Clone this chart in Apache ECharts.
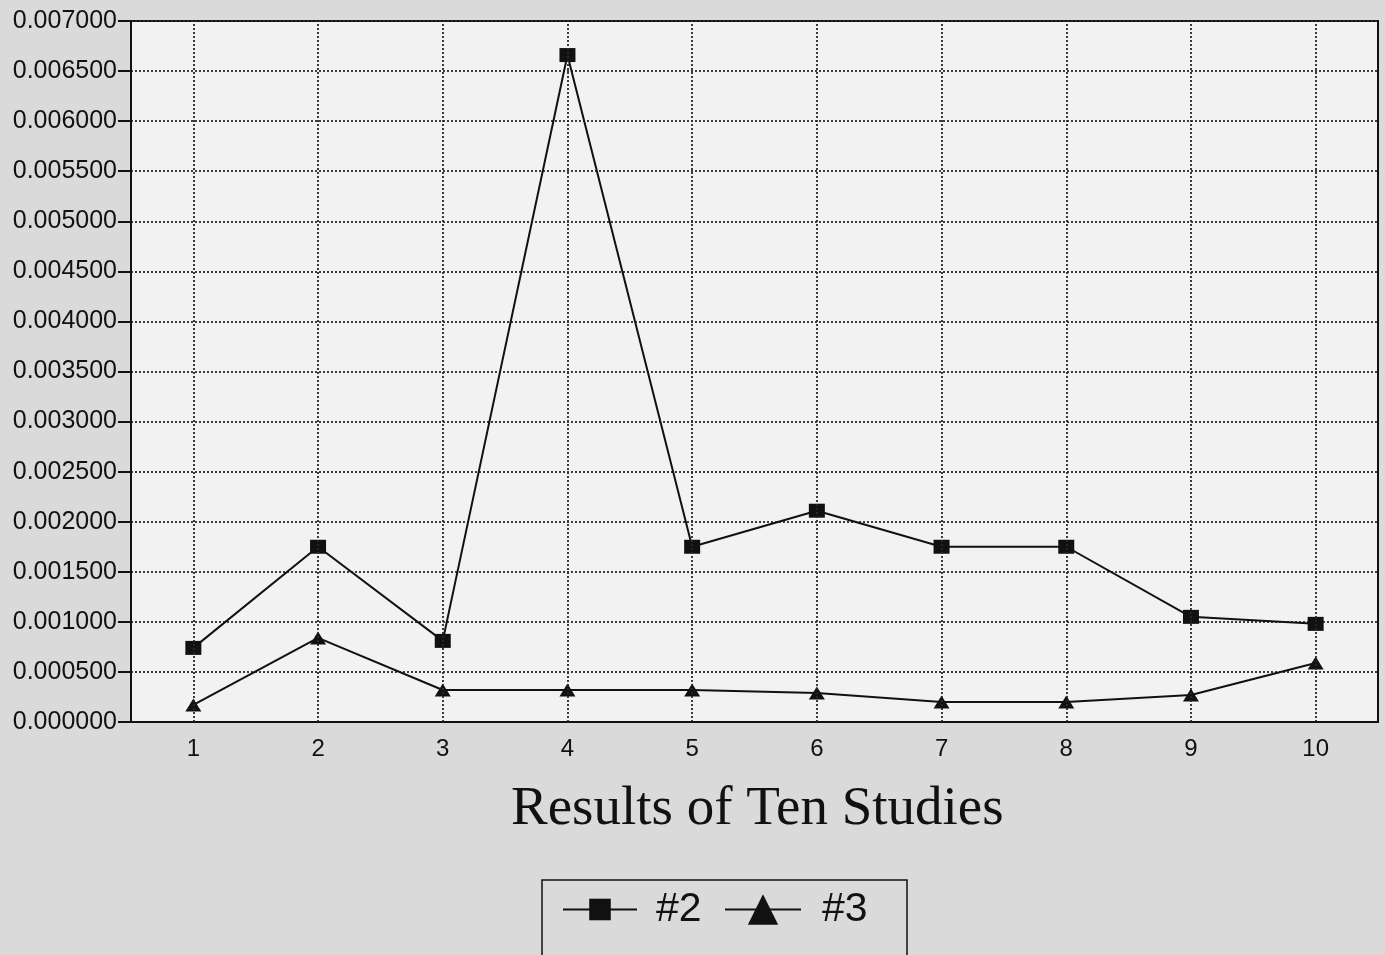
<!DOCTYPE html>
<html>
<head>
<meta charset="utf-8">
<script src="https://cdn.jsdelivr.net/npm/echarts@6/dist/echarts.min.js"></script>
<style>
html,body{margin:0;padding:0;background:#dadada;}
#c{width:1385px;height:955px;}
</style>
</head>
<body>
<div id="c"></div>
<script>
const categories = ['1','2','3','4','5','6','7','8','9','10'];
const series2 = [0.00074, 0.00175, 0.00081, 0.00666, 0.00175, 0.00211, 0.00175, 0.00175, 0.00105, 0.00098];
const series3 = [0.00017, 0.00084, 0.00032, 0.00032, 0.00032, 0.00029, 0.00020, 0.00020, 0.00027, 0.00059];
const yTicks = { min: 0, max: 0.007, interval: 0.0005 };
const xTitle = 'Results of Ten Studies';

const legendText = { fontFamily: 'Liberation Sans', fontSize: 41, color: '#111' };
const gridLine = { color: '#2a2a2a', width: 1.8, type: [2, 2] };

const chart = echarts.init(document.getElementById('c'));
chart.setOption({
  backgroundColor: '#dadada',
  animation: false,
  grid: {
    left: 131, right: 7, top: 21, bottom: 233,
    show: true, backgroundColor: '#f2f2f2', borderColor: '#111', borderWidth: 2
  },
  title: {
    text: xTitle, left: 506, top: 777,
    textStyle: { fontFamily: 'Liberation Serif', fontWeight: 'normal', fontSize: 55, color: '#111' }
  },
  graphic: [{
    type: 'rect', shape: { x: 542, y: 880, width: 365, height: 100 },
    style: { fill: 'none', stroke: '#111', lineWidth: 1.5 }, silent: true
  }],
  legend: [
    {
      left: 562, top: 889, data: ['#2'], padding: 0,
      itemWidth: 74, itemHeight: 27,
      textStyle: Object.assign({ padding: [0, 0, 0, 14] }, legendText)
    },
    {
      left: 724, top: 889, data: ['#3'], padding: 0,
      itemWidth: 76, itemHeight: 38,
      textStyle: Object.assign({ padding: [0, 0, 0, 16] }, legendText)
    }
  ],
  xAxis: {
    type: 'category', data: categories, boundaryGap: true,
    axisLine: { lineStyle: { color: '#111', width: 2 } },
    axisTick: { alignWithLabel: true, length: 11, lineStyle: { color: '#111', width: 2 } },
    axisLabel: { fontFamily: 'Liberation Sans', fontSize: 24, color: '#111', margin: 15 },
    splitLine: { show: false }
  },
  yAxis: {
    type: 'value', min: yTicks.min, max: yTicks.max, interval: yTicks.interval,
    axisLine: { show: true, lineStyle: { color: '#111', width: 2 } },
    axisTick: { show: true, length: 13, lineStyle: { color: '#111', width: 2 } },
    axisLabel: { fontFamily: 'Liberation Sans', fontSize: 25, color: '#111', margin: 14,
      formatter: v => v.toFixed(6) },
    splitLine: { lineStyle: gridLine }
  },
  series: [
    {
      name: '#2', type: 'line', data: series2,
      symbol: 'rect', symbolSize: [16, 14],
      lineStyle: { color: '#111', width: 2 },
      itemStyle: { color: '#111' },
      markLine: {
        silent: true, symbol: 'none', label: { show: false },
        lineStyle: gridLine,
        data: categories.map(c => ({ xAxis: c }))
      },
      z: 3
    },
    {
      name: '#3', type: 'line', data: series3,
      symbol: 'triangle', symbolSize: [16, 13],
      lineStyle: { color: '#111', width: 2 },
      itemStyle: { color: '#111' },
      z: 3
    }
  ]
});
</script>
</body>
</html>
